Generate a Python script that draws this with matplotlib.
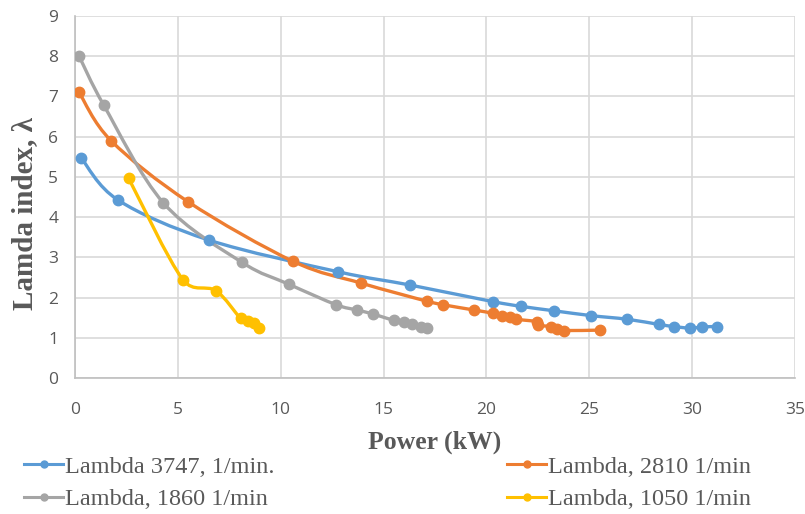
import matplotlib
matplotlib.use("Agg")
import matplotlib.pyplot as plt
from matplotlib.path import Path
from matplotlib.patches import PathPatch
from matplotlib.lines import Line2D
import numpy as np

# ---- data ----
blue_x = [0.3, 2.1, 6.5, 12.8, 16.3, 20.3, 21.7, 23.3, 25.1, 26.85, 28.4, 29.1, 29.9, 30.5, 31.2]
blue_y = [5.47, 4.42, 3.43, 2.64, 2.31, 1.90, 1.78, 1.67, 1.55, 1.46, 1.33, 1.28, 1.24, 1.27, 1.28]

orange_x = [0.2, 1.75, 5.5, 10.6, 13.9, 17.1, 17.9, 19.4, 20.3, 20.75, 21.15, 21.45, 22.45, 22.5, 23.15, 23.45, 23.75, 25.5]
orange_y = [7.10, 5.90, 4.38, 2.90, 2.36, 1.91, 1.82, 1.69, 1.61, 1.54, 1.51, 1.46, 1.40, 1.31, 1.28, 1.22, 1.18, 1.19]

gray_x = [0.2, 1.4, 4.3, 8.1, 10.4, 12.7, 13.7, 14.5, 15.5, 16.0, 16.4, 16.8, 17.1]
gray_y = [8.00, 6.78, 4.35, 2.88, 2.33, 1.82, 1.69, 1.59, 1.43, 1.38, 1.33, 1.28, 1.24]

yellow_x = [2.6, 5.25, 6.85, 8.05, 8.4, 8.7, 8.95]
yellow_y = [4.97, 2.44, 2.17, 1.48, 1.42, 1.37, 1.25]

labels = ["Lambda 3747, 1/min.", "Lambda, 2810 1/min", "Lambda, 1860 1/min", "Lambda, 1050 1/min"]
colors = ["#5B9BD5", "#ED7D31", "#A5A5A5", "#FFC000"]
x_ticks = [0, 5, 10, 15, 20, 25, 30, 35]
y_ticks = [0, 1, 2, 3, 4, 5, 6, 7, 8, 9]

fig = plt.figure(figsize=(8.05, 5.14), dpi=100)
ax = fig.add_axes([0.0932, 0.2646, 0.8944, 0.7043])
ax.set_xlim(0, 35)
ax.set_ylim(0, 9)


def smooth_path(xs, ys):
    # Catmull-Rom style Bezier smoothing in screen space, with capped handles
    pts = ax.transData.transform(np.column_stack([xs, ys]).astype(float))
    n = len(pts)
    verts = [pts[0]]
    codes = [Path.MOVETO]

    def cap(v, lim):
        L = np.linalg.norm(v)
        return v * (lim / L) if L > lim and L > 0 else v

    for i in range(n - 1):
        p0 = pts[i - 1] if i > 0 else pts[i]
        p1 = pts[i]
        p2 = pts[i + 1]
        p3 = pts[i + 2] if i + 2 < n else pts[i + 1]
        seg = np.linalg.norm(p2 - p1)
        c1 = p1 + cap((p2 - p0) / 6.0, 0.5 * seg)
        c2 = p2 - cap((p3 - p1) / 6.0, 0.5 * seg)
        verts += [c1, c2, p2]
        codes += [Path.CURVE4] * 3
    verts = ax.transData.inverted().transform(np.array(verts))
    return Path(verts, codes)


txt_col = "#595959"
grid_col = "#D9D9D9"

series = [(blue_x, blue_y), (orange_x, orange_y), (gray_x, gray_y), (yellow_x, yellow_y)]
handles = []
for (xs, ys), c, lab in zip(series, colors, labels):
    patch = PathPatch(smooth_path(xs, ys), facecolor="none", edgecolor=c, lw=2.4,
                      capstyle="round", joinstyle="round", zorder=3)
    ax.add_patch(patch)
    ax.plot(xs, ys, linestyle="none", marker="o", markersize=7.5, color=c, zorder=4)
    handles.append(Line2D([], [], color=c, lw=2.2, marker="o", markersize=5))

ax.set_xticks(x_ticks)
ax.set_yticks(y_ticks)
ax.grid(True, color=grid_col, lw=1.2, zorder=0)
ax.set_axisbelow(True)
for s in ["top", "right"]:
    ax.spines[s].set_visible(False)
for s in ["left", "bottom"]:
    ax.spines[s].set_color("#BFBFBF")
    ax.spines[s].set_linewidth(1.2)
ax.tick_params(axis="both", length=0, colors=txt_col, labelsize=12.5)
ax.tick_params(axis="x", pad=17)
ax.tick_params(axis="y", pad=12)
for lab in ax.get_xticklabels() + ax.get_yticklabels():
    lab.set_fontfamily("Open Sans")

ax.set_xlabel("Power (kW)", family="Liberation Serif", fontweight="bold", fontsize=18.5,
              color=txt_col, labelpad=9)
ax.set_ylabel("Lamda index, λ", family="Liberation Serif", fontweight="bold", fontsize=21,
              color=txt_col)
ax.yaxis.set_label_coords(-0.052, 0.455)

legprops = {"family": "Liberation Serif", "size": 17.5}
leg1 = fig.legend([handles[0], handles[2]], [labels[0], labels[2]],
                  loc="upper left", bbox_to_anchor=(0.03, 0.113), frameon=False,
                  handlelength=1.6, handletextpad=0.1, labelspacing=0.42,
                  borderaxespad=0, borderpad=0, prop=legprops)
leg2 = fig.legend([handles[1], handles[3]], [labels[1], labels[3]],
                  loc="upper left", bbox_to_anchor=(0.63, 0.113), frameon=False,
                  handlelength=1.6, handletextpad=0.1, labelspacing=0.42,
                  borderaxespad=0, borderpad=0, prop=legprops)
for lg in (leg1, leg2):
    for t in lg.get_texts():
        t.set_color(txt_col)

fig.savefig("out.png", dpi=100)
